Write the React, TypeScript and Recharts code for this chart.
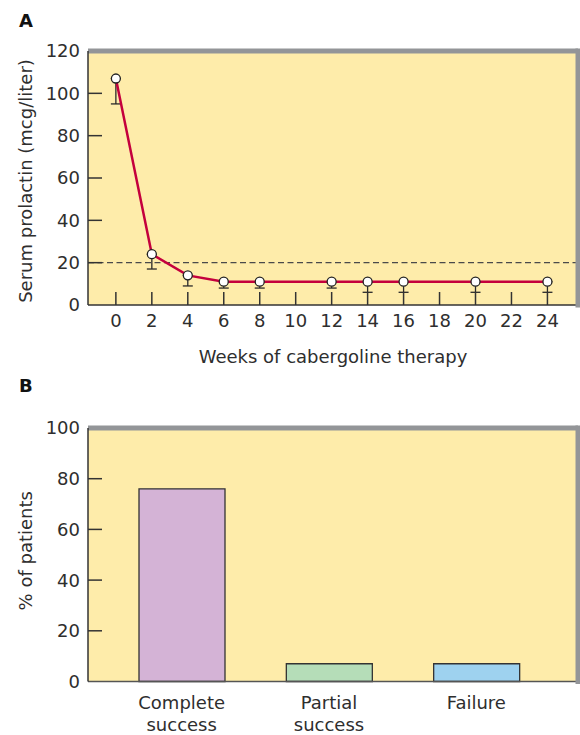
import React from 'react';
import {
  LineChart,
  Line,
  XAxis,
  YAxis,
  CartesianGrid,
  ReferenceLine,
  ErrorBar,
  BarChart,
  Bar,
  Cell,
} from 'recharts';

// ---------- Panel A data ----------
const weeks = [0, 2, 4, 6, 8, 12, 14, 16, 20, 24];
const prolactin = [107, 24, 14, 11, 11, 11, 11, 11, 11, 11];
const prolactinLowerError = [12, 7, 5, 3, 3, 3, 5, 5, 5, 5];
const weekTicks = [0, 2, 4, 6, 8, 10, 12, 14, 16, 18, 20, 22, 24];
const prolactinTicks = [0, 20, 40, 60, 80, 100, 120];
const normalLimit = 20;

// ---------- Panel B data ----------
const outcomes = ['Complete success', 'Partial success', 'Failure'];
const outcomePercent = [76, 7, 7];
const outcomeColors = ['#D4B3D6', '#B5DDB8', '#9ED2EF'];
const percentTicks = [0, 20, 40, 60, 80, 100];

const FONT = '"DejaVu Sans", Verdana, sans-serif';
const TEXT = '#2e2e2e';
const BG = '#FEECAA';
const BORDER = '#939598';
const AXIS = '#333333';

const lineData = weeks.map((w, i) => ({
  week: w,
  prolactin: prolactin[i],
  err: [prolactinLowerError[i], 0],
}));

const barData = outcomes.map((name, i) => ({ name, pct: outcomePercent[i] }));

const makeYTick = (maxVal: number) => (props: any) => {
  const { x, y, payload } = props;
  const v = payload.value;
  const showLine = v !== 0 && v !== maxVal;
  return (
    <g>
      {showLine && (
        <line x1={x} x2={x + 14} y1={y} y2={y} stroke={AXIS} strokeWidth={1.5} />
      )}
      <text
        x={x - 8}
        y={y}
        dy="0.36em"
        textAnchor="end"
        fontSize={18}
        fill={TEXT}
        fontFamily={FONT}
      >
        {v}
      </text>
    </g>
  );
};

const WeekTick = (props: any) => {
  const { x, y, payload } = props;
  return (
    <g>
      <line x1={x} x2={x} y1={y} y2={y - 13} stroke={AXIS} strokeWidth={1.5} />
      <text x={x} y={y + 22} textAnchor="middle" fontSize={18} fill={TEXT} fontFamily={FONT}>
        {payload.value}
      </text>
    </g>
  );
};

const OutcomeTick = (props: any) => {
  const { x, y, payload } = props;
  const words = String(payload.value).split(' ');
  return (
    <g>
      {words.map((w, i) => (
        <text
          key={i}
          x={x}
          y={y + 27 + i * 22}
          textAnchor="middle"
          fontSize={18}
          fill={TEXT}
          fontFamily={FONT}
        >
          {w}
        </text>
      ))}
    </g>
  );
};

const makeYLabel = (text: string, shift: number) => (props: any) => {
  const vb = props.viewBox || {};
  const cx = 25;
  const cy = vb.y + vb.height / 2 + shift;
  return (
    <text
      x={cx}
      y={cy}
      transform={`rotate(-90, ${cx}, ${cy})`}
      textAnchor="middle"
      dominantBaseline="central"
      fontSize={18}
      fill={TEXT}
      fontFamily={FONT}
    >
      {text}
    </text>
  );
};

const makeXLabel = (text: string) => (props: any) => {
  const vb = props.viewBox || {};
  return (
    <text
      x={vb.x + vb.width / 2}
      y={vb.y + 58}
      textAnchor="middle"
      fontSize={18}
      fill={TEXT}
      fontFamily={FONT}
    >
      {text}
    </text>
  );
};

const panelLetter: React.CSSProperties = {
  position: 'absolute',
  left: 19,
  fontFamily: FONT,
  fontWeight: 'bold',
  fontSize: 18,
  color: '#111',
  lineHeight: '18px',
};

export default function App() {
  return (
    <div
      style={{
        position: 'absolute',
        left: 0,
        top: 0,
        width: 580,
        height: 735,
        background: '#fff',
        overflow: 'hidden',
      }}
    >
      <div style={{ ...panelLetter, top: 12 }}>A</div>
      <div style={{ ...panelLetter, top: 377 }}>B</div>

      <div style={{ position: 'absolute', left: 0, top: 0 }}>
        <LineChart
          width={580}
          height={370}
          data={lineData}
          margin={{ top: 51, right: 0, bottom: 0, left: 0 }}
        >
          <CartesianGrid horizontal={false} vertical={false} fill={BG} />
          <XAxis
            dataKey="week"
            type="number"
            domain={[-1.55, 25.7]}
            ticks={weekTicks}
            interval={0}
            height={65}
            tickSize={0}
            tickMargin={0}
            tickLine={false}
            axisLine={{ stroke: AXIS, strokeWidth: 1.5 }}
            tick={WeekTick}
            label={makeXLabel('Weeks of cabergoline therapy')}
          />
          <YAxis
            yAxisId="left"
            type="number"
            domain={[0, 120]}
            ticks={prolactinTicks}
            interval={0}
            width={88}
            tickSize={0}
            tickMargin={0}
            tickLine={false}
            axisLine={{ stroke: AXIS, strokeWidth: 1.5 }}
            tick={makeYTick(120)}
            label={makeYLabel('Serum prolactin (mcg/liter)', 3)}
          />
          <YAxis
            yAxisId="right"
            orientation="right"
            type="number"
            domain={[0, 120]}
            width={2}
            tick={false}
            tickLine={false}
            axisLine={{ stroke: BORDER, strokeWidth: 5, strokeLinecap: 'square' }}
          />
          <ReferenceLine
            yAxisId="left"
            y={120}
            stroke={BORDER}
            strokeWidth={5}
            ifOverflow="visible"
          />
          <ReferenceLine
            yAxisId="left"
            y={normalLimit}
            stroke="#4a4a4a"
            strokeWidth={1.3}
            strokeDasharray="6 3.5"
          />
          <Line
            yAxisId="left"
            dataKey="prolactin"
            type="linear"
            stroke="#C4003D"
            strokeWidth={2.5}
            isAnimationActive={false}
            dot={{ r: 4.5, fill: '#ffffff', stroke: '#222', strokeWidth: 1.3 }}
            activeDot={false}
          >
            <ErrorBar
              dataKey="err"
              direction="y"
              width={5}
              stroke="#2a2a2a"
              strokeWidth={1.3}
              isAnimationActive={false}
            />
          </Line>
        </LineChart>
      </div>

      <div style={{ position: 'absolute', left: 0, top: 370 }}>
        <BarChart
          width={580}
          height={365}
          data={barData}
          margin={{ top: 58, right: 0, bottom: 0, left: 0 }}
        >
          <CartesianGrid horizontal={false} vertical={false} fill={BG} />
          <XAxis
            dataKey="name"
            type="category"
            interval={0}
            height={53.5}
            padding={{ left: 20, right: 28 }}
            tickSize={0}
            tickMargin={0}
            tickLine={false}
            axisLine={{ stroke: '#555', strokeWidth: 1.5 }}
            tick={OutcomeTick}
          />
          <YAxis
            yAxisId="left"
            type="number"
            domain={[0, 100]}
            ticks={percentTicks}
            interval={0}
            width={88}
            tickSize={0}
            tickMargin={0}
            tickLine={false}
            axisLine={{ stroke: AXIS, strokeWidth: 1.5 }}
            tick={makeYTick(100)}
            label={makeYLabel('% of patients', -4)}
          />
          <YAxis
            yAxisId="right"
            orientation="right"
            type="number"
            domain={[0, 100]}
            width={2}
            tick={false}
            tickLine={false}
            axisLine={{ stroke: BORDER, strokeWidth: 5, strokeLinecap: 'square' }}
          />
          <ReferenceLine
            yAxisId="left"
            y={100}
            stroke={BORDER}
            strokeWidth={5}
            ifOverflow="visible"
          />
          <Bar
            yAxisId="left"
            dataKey="pct"
            barSize={86}
            stroke="#333"
            strokeWidth={1.3}
            isAnimationActive={false}
          >
            {barData.map((d, i) => (
              <Cell key={d.name} fill={outcomeColors[i]} />
            ))}
          </Bar>
        </BarChart>
      </div>
    </div>
  );
}
